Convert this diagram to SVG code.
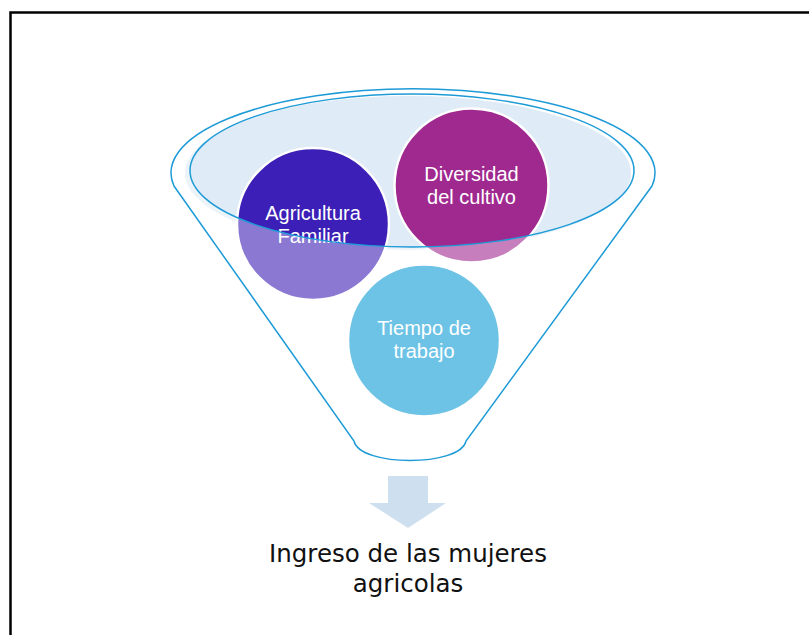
<svg xmlns="http://www.w3.org/2000/svg" width="809" height="635" viewBox="0 0 809 635">
  <style>
    .lbl { font-family: "Liberation Sans", Arial, sans-serif; font-size: 20px; fill: #ffffff; text-anchor: middle; }
    .out { font-family: "DejaVu Sans", "Liberation Sans", sans-serif; font-size: 24.5px; fill: #111111; text-anchor: middle; }
    .node circle { stroke: #ffffff; stroke-width: 2.5; }
    .edge { fill: none; stroke: #1E9BD7; stroke-width: 1.5; }
  </style>
  <rect x="0" y="0" width="809" height="635" fill="#ffffff"/>
  <rect x="10.5" y="12.5" width="820" height="640" fill="none" stroke="#000000" stroke-width="2.5"/>

  <g id="funnel-rim-fill">
    <ellipse cx="408" cy="173" rx="223" ry="77" fill="#DFEBF6"/>
  </g>

  <g id="node-agricultura" class="node">
    <circle cx="313" cy="224" r="76" fill="#3C1FB6"/>
    <text class="lbl" x="313" y="219.5">Agricultura</text>
    <text class="lbl" x="313" y="242.5">Familiar</text>
  </g>
  <g id="node-diversidad" class="node">
    <circle cx="471.5" cy="185.5" r="77" fill="#A0298F"/>
    <text class="lbl" x="471.5" y="180.5">Diversidad</text>
    <text class="lbl" x="471.5" y="203.5">del cultivo</text>
  </g>
  <g id="node-tiempo" class="node">
    <circle cx="424" cy="340.5" r="76" fill="#0D9BD5"/>
  </g>

  <g id="funnel-overlay">
    <path fill="#ffffff" fill-opacity="0.4" fill-rule="evenodd" d="M 174 186 A 242 84 0 1 1 652 186 L 466 441 C 460 467 360 467 354 441 Z M 190 170.5 A 222 76.5 0 1 0 634 170.5 A 222 76.5 0 1 0 190 170.5 Z"/>
  </g>

  <g id="node-tiempo-label">
    <text class="lbl" x="424" y="334.5">Tiempo de</text>
    <text class="lbl" x="424" y="357.5">trabajo</text>
  </g>

  <g id="connectors">
    <path class="edge" d="M 174 186 A 242 84 0 1 1 652 186 L 466 441 C 460 467 360 467 354 441 Z"/>
    <ellipse class="edge" cx="412" cy="170.5" rx="222" ry="76.5"/>
    <path d="M 388 476 L 428 476 L 428 503 L 446 503 L 408 528 L 369 503 L 388 503 Z" fill="#CEE0EF"/>
  </g>

  <g id="node-ingreso">
    <text class="out" x="408" y="562">Ingreso de las mujeres</text>
    <text class="out" x="408" y="592">agricolas</text>
  </g>
</svg>
